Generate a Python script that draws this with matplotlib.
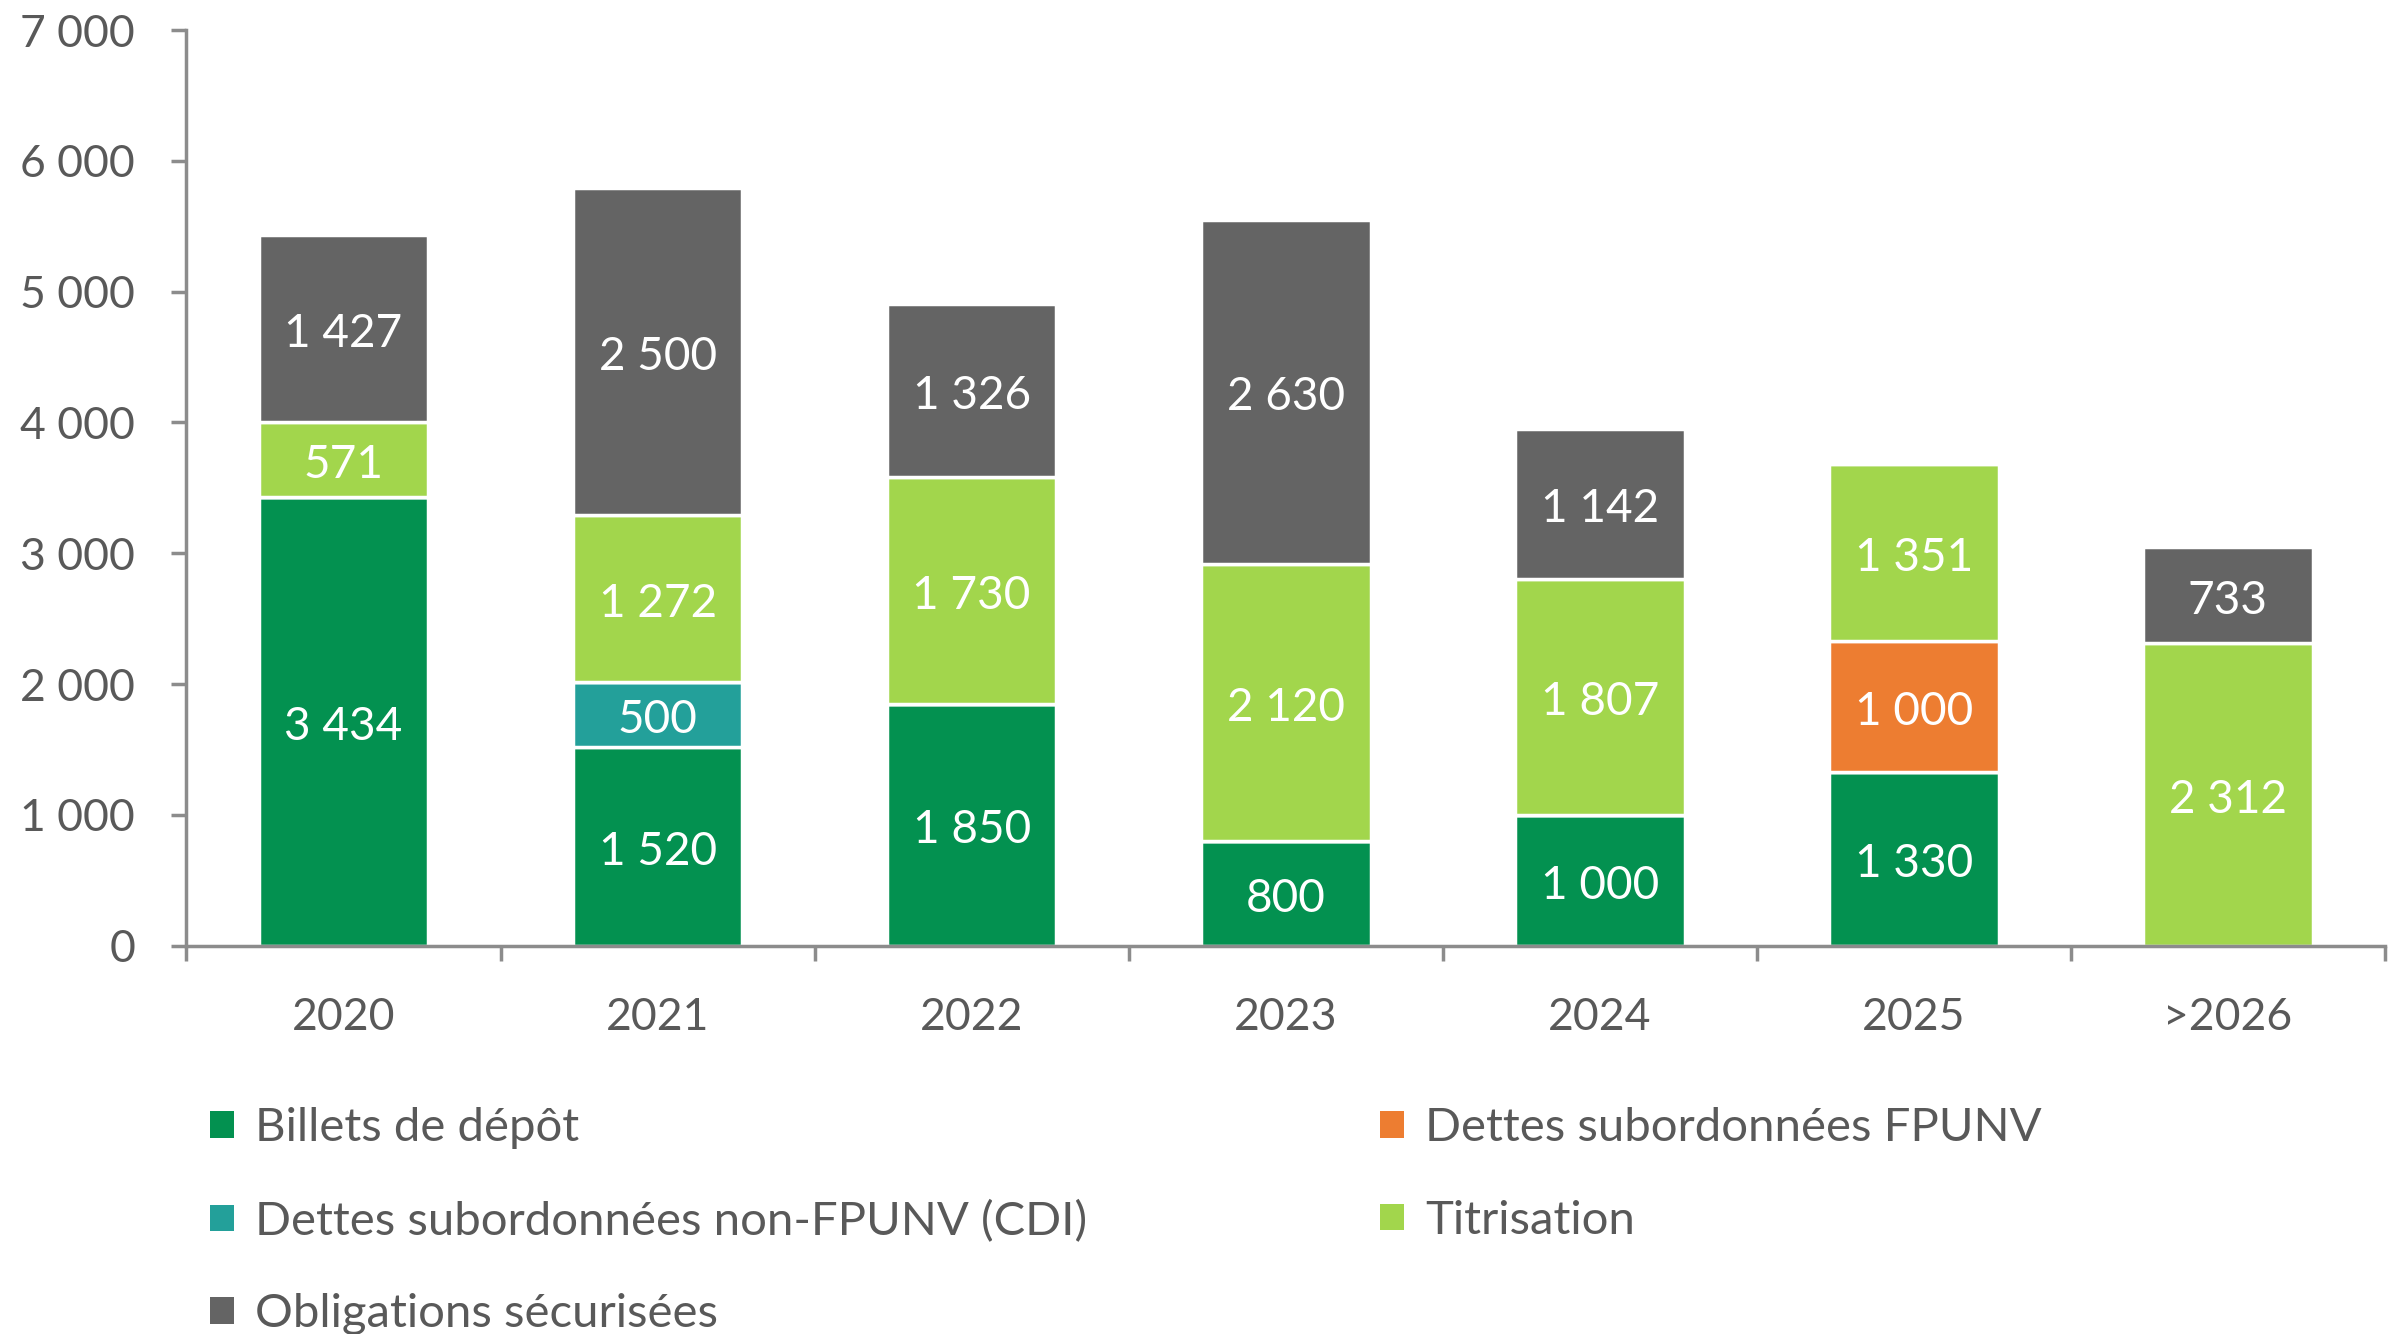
import matplotlib
matplotlib.use("Agg")
import matplotlib.pyplot as plt
import numpy as np
from matplotlib.ticker import FuncFormatter, FixedLocator
from matplotlib.patches import Patch

plt.rcParams['font.family'] = ['Lato', 'DejaVu Sans']

categories = ["2020", "2021", "2022", "2023", "2024", "2025", ">2026"]
series_names = ["Billets de dépôt", "Dettes subordonnées non-FPUNV (CDI)",
                "Dettes subordonnées FPUNV", "Titrisation", "Obligations sécurisées"]
billets = [3434, 1520, 1850, 800, 1000, 1330, 0]
non_fpunv = [0, 500, 0, 0, 0, 0, 0]
fpunv = [0, 0, 0, 0, 0, 1000, 0]
titrisation = [571, 1272, 1730, 2120, 1807, 1351, 2312]
obligations = [1427, 2500, 1326, 2630, 1142, 0, 733]
colors = ["#039150", "#23A09A", "#ED7D31", "#A2D64C", "#646464"]

series = [billets, non_fpunv, fpunv, titrisation, obligations]

fig = plt.figure(figsize=(23.91, 13.34), dpi=100)
ax = fig.add_axes([0.078, 0.291, 0.9195, 0.6865])

x = np.arange(len(categories))
bottom = np.zeros(len(categories))
fs_lab = 33
fs = 32
for vals, col in zip(series, colors):
    v = np.array(vals, dtype=float)
    ax.bar(x, v, width=0.54, bottom=bottom, color=col,
           edgecolor="white", linewidth=2.5, zorder=2)
    for xi, b, val in zip(x, bottom, v):
        if val > 0:
            ax.annotate(f"{int(val):,}".replace(",", " "), (xi, b + val / 2),
                        xytext=(0, -4), textcoords="offset points",
                        ha="center", va="center", color="white",
                        fontsize=fs_lab, zorder=3)
    bottom += v

ax.set_xlim(-0.5, 6.5)
ax.set_ylim(0, 7000)
ax.set_yticks(np.arange(0, 7001, 1000))
ax.yaxis.set_major_formatter(FuncFormatter(lambda v, p: f"{int(v):,}".replace(",", " ")))
ax.set_xticks(x)
ax.set_xticklabels(categories)
ax.xaxis.set_minor_locator(FixedLocator(np.arange(-0.5, 7.0, 1.0)))

spine_col = "#8C8C8C"
for s in ["top", "right"]:
    ax.spines[s].set_visible(False)
for s in ["left", "bottom"]:
    ax.spines[s].set_color(spine_col)
    ax.spines[s].set_linewidth(2.5)

ax.tick_params(axis="y", length=11, width=2.5, color=spine_col, labelsize=fs,
               labelcolor="#595959", pad=26)
ax.tick_params(axis="x", which="major", length=0, labelsize=fs,
               labelcolor="#595959", pad=37)
ax.tick_params(axis="x", which="minor", length=11, width=2.5, color=spine_col)

order = [0, 1, 4, 2, 3]
handles = [Patch(facecolor=colors[i], edgecolor="none") for i in order]
labels = [series_names[i] for i in order]
leg = fig.legend(handles, labels, ncol=2, loc="upper left",
                 bbox_to_anchor=(0.088, 0.170), frameon=False, fontsize=34,
                 labelcolor="#595959", handlelength=0.5, handleheight=0.5,
                 handletextpad=0.45, columnspacing=6.2, labelspacing=1.07,
                 borderaxespad=0, borderpad=0)

fig.savefig("out.png", dpi=100, facecolor="white")
